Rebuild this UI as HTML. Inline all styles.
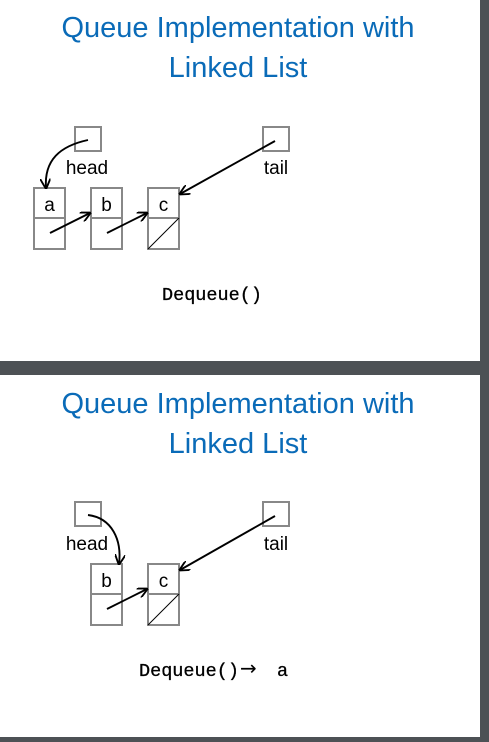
<!DOCTYPE html>
<html><head><meta charset="utf-8"><style>
html,body{margin:0;padding:0;background:#4d5155;}
svg{display:block}
.t{font-family:"Liberation Sans","DejaVu Sans",sans-serif;fill:#0a6bb8;font-size:29px;text-anchor:middle}
.l{font-family:"Liberation Sans","DejaVu Sans",sans-serif;fill:#000;font-size:19px;text-anchor:middle}
.m{font-family:"Liberation Mono",monospace;fill:#000;font-size:18.5px;stroke:#000;stroke-width:0.3}
.b{fill:#fff;stroke:#888;stroke-width:2}
.a{fill:none;stroke:#000;stroke-width:1.9;marker-end:url(#ar)}
</style></head><body>
<svg width="489" height="742" viewBox="0 0 489 742" xmlns="http://www.w3.org/2000/svg">
<defs><marker id="ar" viewBox="0 0 10 10" refX="9" refY="5" markerWidth="5.5" markerHeight="5.5" orient="auto"><path d="M0,0 L10,5 L0,10" fill="none" stroke="#000" stroke-width="1.8"/></marker></defs>
<rect x="0" y="0" width="489" height="742" fill="#4d5155"/>
<rect x="0" y="0" width="480" height="361" fill="#fff"/>
<rect x="0" y="375" width="480" height="362" fill="#fff"/>

<!-- Slide 1 -->
<text class="t" x="238" y="37">Queue Implementation with</text>
<text class="t" x="238" y="77">Linked List</text>
<rect class="b" x="75" y="127" width="26" height="24"/>
<rect class="b" x="263" y="127" width="26" height="24"/>
<text class="l" x="87" y="174">head</text>
<text class="l" x="276" y="174">tail</text>
<rect class="b" x="34" y="188" width="31" height="30"/><rect class="b" x="34" y="218" width="31" height="31"/>
<rect class="b" x="91" y="188" width="31" height="30"/><rect class="b" x="91" y="218" width="31" height="31"/>
<rect class="b" x="148" y="188" width="31" height="30"/><rect class="b" x="148" y="218" width="31" height="31"/>
<line x1="148" y1="249" x2="179" y2="218" stroke="#000" stroke-width="1"/>
<text class="l" x="49.5" y="211">a</text><text class="l" x="106.5" y="211">b</text><text class="l" x="163.5" y="211">c</text>
<path class="a" d="M88,140 C60,146 44,160 46,188"/>
<path class="a" d="M50,233 L90,213"/>
<path class="a" d="M107,233 L147,213"/>
<path class="a" d="M275,141 L180,194"/>
<text class="m" x="162" y="300">Dequeue()</text>

<!-- Slide 2 -->
<text class="t" x="238" y="413">Queue Implementation with</text>
<text class="t" x="238" y="453">Linked List</text>
<rect class="b" x="75" y="502" width="26" height="24"/>
<rect class="b" x="263" y="502" width="26" height="24"/>
<text class="l" x="87" y="550">head</text>
<text class="l" x="276" y="550">tail</text>
<rect class="b" x="91" y="564" width="31" height="30"/><rect class="b" x="91" y="594" width="31" height="31"/>
<rect class="b" x="148" y="564" width="31" height="30"/><rect class="b" x="148" y="594" width="31" height="31"/>
<line x1="148" y1="625" x2="179" y2="594" stroke="#000" stroke-width="1"/>
<text class="l" x="106.5" y="587">b</text><text class="l" x="163.5" y="587">c</text>
<path class="a" d="M88,515 C112,518 122,540 119,564"/>
<path class="a" d="M107,609 L147,589"/>
<path class="a" d="M275,516 L180,570"/>
<text class="m" x="139" y="676">Dequeue()</text>
<text x="240" y="675" font-family="DejaVu Sans, sans-serif" font-size="20" fill="#000">→</text>
<text class="m" x="277" y="676">a</text>
</svg>
</body></html>
